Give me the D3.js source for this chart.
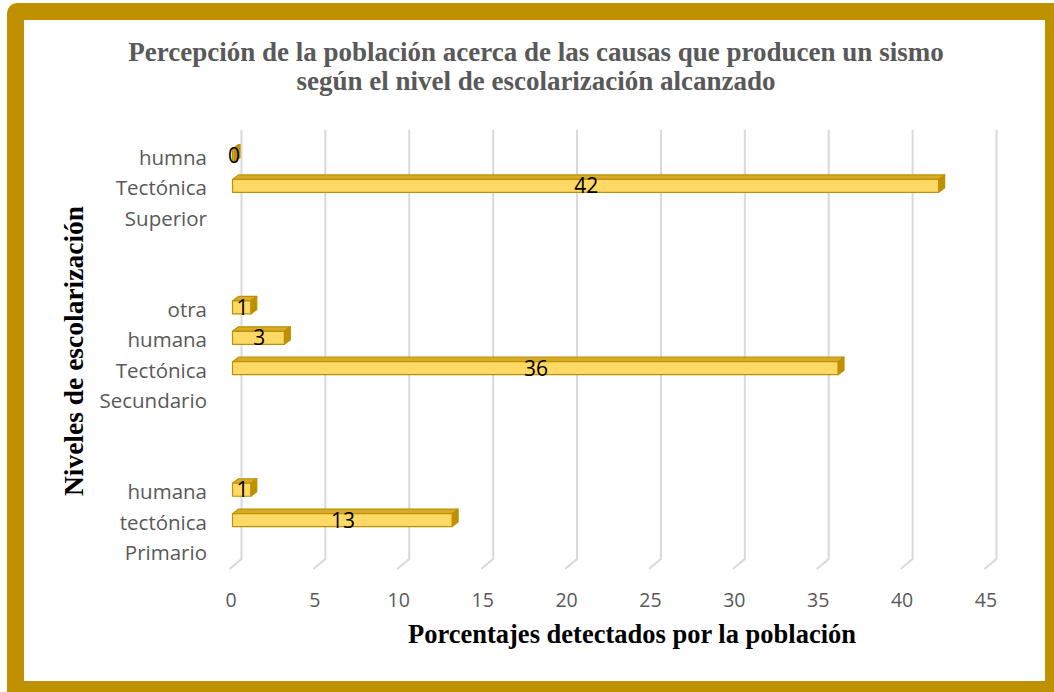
<!DOCTYPE html>
<html>
<head>
<meta charset="utf-8">
<script src="https://cdn.jsdelivr.net/npm/d3@7"></script>
<style>
  html, body { margin: 0; padding: 0; background: #ffffff; }
  svg { display: block; }
</style>
</head>
<body>
<svg id="chart" width="1054" height="692"></svg>
<script>
// Category rows from bottom to top; empty rows keep the gaps between school levels
const rowIds = ["r0","r1","r2","r3","r4","r5","r6","r7","r8","r9","r10","r11","r12","r13"];
const rowLabels = ["Primario","tectónica","humana","","","Secundario","Tectónica","humana","otra","","","Superior","Tectónica","humna"];
const rowValues = [null, 13, 1, null, null, null, 36, 3, 1, null, null, null, 42, 0];
const xTicks = [0, 5, 10, 15, 20, 25, 30, 35, 40, 45];

const titleLines = [
  "Percepción de la población acerca de las causas que producen un sismo",
  "según el nivel de escolarización alcanzado"
];
const xTitle = "Porcentajes detectados por la población";
const yTitle = "Niveles de escolarización";

const svg = d3.select("#chart");
const W = 1054, H = 692;

// Frame
svg.append("rect").attr("x", 7).attr("y", 3).attr("width", W + 20).attr("height", H + 20)
  .attr("rx", 10).attr("fill", "#BF9000");
svg.append("rect").attr("x", 24).attr("y", 20).attr("width", 1021).attr("height", 661)
  .attr("fill", "#ffffff");

// Scales (front plane)
const x = d3.scaleLinear().domain([0, 45]).range([231, 986]);
const y = d3.scalePoint().domain(rowIds).range([553, 158]);

// Depth of the 3D walls
const wallDX = 12, wallDY = -10;
const floorY = 569, wallTop = 130;

// Gridlines: back wall verticals plus floor diagonals
const grid = svg.append("g").attr("stroke", "#D9D9D9").attr("stroke-width", 2).attr("fill", "none");
grid.selectAll("path").data(xTicks).join("path")
  .attr("d", d => {
    const fx = x(d) - 1.5;
    return `M${fx},${floorY} L${fx + wallDX},${floorY + wallDY} L${fx + wallDX},${wallTop}`;
  });

// Tick labels
svg.append("g").selectAll("text").data(xTicks).join("text")
  .attr("x", d => x(d)).attr("y", 607)
  .attr("text-anchor", "middle")
  .attr("font-family", "'Open Sans', sans-serif").attr("font-size", 19.5)
  .attr("fill", "#595959")
  .text(d => d);

// Category labels
svg.append("g").selectAll("text").data(rowIds).join("text")
  .attr("x", 207).attr("y", d => y(d) + 7)
  .attr("text-anchor", "end")
  .attr("font-family", "'Open Sans', sans-serif").attr("font-size", 20.5)
  .attr("fill", "#595959")
  .text((d, i) => rowLabels[i]);

// Bars in 3D: front face, top face, right side
const barH = 13, barDX = 6, barDY = -4.5, barOff = 1.5;
const bars = rowIds.map((id, i) => ({ id, v: rowValues[i] })).filter(d => d.v !== null);

const gBars = svg.append("g");
bars.forEach(d => {
  const x0 = x(0) + barOff, x1 = x(d.v) + barOff + 1.5;
  const yc = y(d.id) - 2.5;
  const y0 = yc - barH / 2, y1 = yc + barH / 2;
  const g = gBars.append("g").attr("stroke", "#BF9000").attr("stroke-width", 1.2).attr("stroke-linejoin", "round");
  // top face
  g.append("path")
    .attr("d", `M${x0},${y0} L${x0 + barDX},${y0 + barDY} L${x1 + barDX},${y0 + barDY} L${x1},${y0} Z`)
    .attr("fill", "#D6AC2A");
  // right side
  g.append("path")
    .attr("d", `M${x1},${y0} L${x1 + barDX},${y0 + barDY} L${x1 + barDX},${y1 + barDY} L${x1},${y1} Z`)
    .attr("fill", "#BF9000");
  // front face
  g.append("rect").attr("x", x0).attr("y", y0).attr("width", Math.max(0, x1 - x0)).attr("height", barH)
    .attr("fill", "#FFD966");
});

// Data labels
svg.append("g").selectAll("text").data(bars).join("text")
  .attr("x", d => (x(0) + x(d.v)) / 2 + barOff + 1.5)
  .attr("y", d => y(d.id) + 5)
  .attr("text-anchor", "middle")
  .attr("font-family", "'Open Sans', sans-serif").attr("font-size", 21)
  .attr("fill", "#000000")
  .text(d => d.v);

// Title
svg.append("g").selectAll("text").data(titleLines).join("text")
  .attr("x", 536).attr("y", (d, i) => 61 + i * 29)
  .attr("text-anchor", "middle")
  .attr("font-family", "'Liberation Serif', 'Times New Roman', serif")
  .attr("font-weight", "bold").attr("font-size", 27)
  .attr("fill", "#595959")
  .text(d => d);

// Axis titles
svg.append("text")
  .attr("x", 632).attr("y", 643)
  .attr("text-anchor", "middle")
  .attr("font-family", "'Liberation Serif', 'Times New Roman', serif")
  .attr("font-weight", "bold").attr("font-size", 26.5)
  .attr("fill", "#000000")
  .text(xTitle);

svg.append("text")
  .attr("transform", "translate(83,351) rotate(-90)")
  .attr("text-anchor", "middle")
  .attr("font-family", "'Liberation Serif', 'Times New Roman', serif")
  .attr("font-weight", "bold").attr("font-size", 27.5)
  .attr("fill", "#000000")
  .text(yTitle);
</script>
</body>
</html>
